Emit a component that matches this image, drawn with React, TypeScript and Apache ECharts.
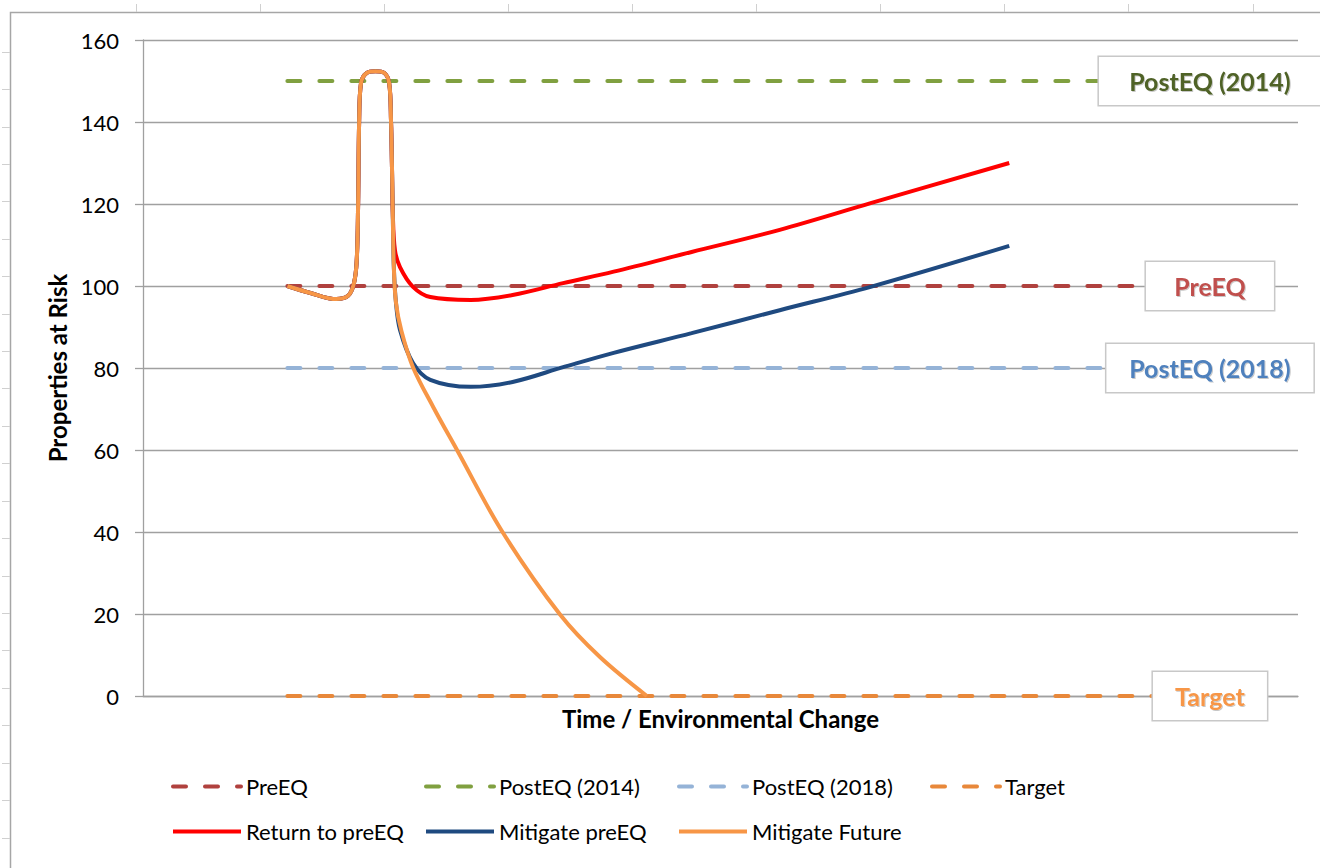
import { useEffect, useRef } from 'react';
import * as echarts from 'echarts';

// ---- data ----
const referenceNames = ['PreEQ', 'PostEQ (2014)', 'PostEQ (2018)', 'Target'];
const referenceValues = [100, 150, 80, 0];
const referenceSpan = [1, 7.3];
const labelAnchorX = 7.39;

const curveNames = ['Return to preEQ', 'Mitigate preEQ', 'Mitigate Future'];
const sharedStart: number[][] = [
  [1.0, 100], [1.16, 98.3], [1.34, 96.8], [1.42, 97.6], [1.46, 100.5], [1.48, 106],
  [1.49, 120], [1.497, 140], [1.51, 149.5], [1.55, 152], [1.61, 152.4], [1.67, 152],
  [1.705, 149.5], [1.718, 140], [1.724, 130], [1.73, 118],
];
const returnTail: number[][] = [
  [1.745, 108.8], [1.78, 104.6], [1.87, 99.8], [1.99, 97.3], [2.27, 96.6], [2.56, 97.8],
  [2.91, 100.7], [3.26, 103.5], [3.8, 108.3], [4.41, 113.7], [5.04, 120.2], [6.0, 130],
];
const mitigateTail: number[][] = [
  [1.737, 105], [1.752, 96], [1.78, 89.3], [1.87, 81.2], [1.99, 77.1], [2.27, 75.4],
  [2.56, 76.6], [2.91, 80.2], [3.26, 83.7], [3.8, 88.5], [4.41, 94.1], [5.04, 99.8], [6.0, 109.8],
];
const futureTail: number[][] = [
  [1.737, 105], [1.752, 96], [1.79, 89], [1.87, 80.2], [2.01, 70.5], [2.175, 60],
  [2.49, 40], [2.89, 19.8], [3.165, 9.5], [3.49, 0],
];
const yMin = 0;
const yMax = 160;
const yStep = 20;

// ---- styles ----
const FONT = 'Lato';
const refLineColors = ['#B0413E', '#80A040', '#95B3D7', '#E8883A'];
const refTextColors = ['#C0504D', '#4F6228', '#4F81BD', '#F79646'];
const refBoxWidths = [128, 222, 207, 114];
const curveColors = ['#FF0000', '#1F4A80', '#F79646'];

export default function App() {
  const ref = useRef<HTMLDivElement>(null);
  useEffect(() => {
    if (!ref.current) return;
    const chart = echarts.init(ref.current, undefined, { renderer: 'svg' });

    const refSeries = referenceNames.map((name, i) => ({
      type: 'line',
      name,
      data: referenceSpan.map((x) => [x, referenceValues[i]]),
      symbol: 'none',
      showSymbol: false,
      z: 2,
      lineStyle: { color: refLineColors[i], width: 4, type: [13, 19], cap: 'round' },
      itemStyle: { color: refLineColors[i] },
      markPoint: {
        symbol: 'rect',
        symbolSize: 1,
        silent: true,
        itemStyle: { color: 'rgba(0,0,0,0)' },
        data: [{ coord: [labelAnchorX, referenceValues[i]] }],
        label: {
          show: true,
          position: 'inside',
          formatter: name,
          color: refTextColors[i],
          fontFamily: FONT,
          fontWeight: 'bold',
          fontSize: 25,
          backgroundColor: '#ffffff',
          borderColor: '#c8c8c8',
          borderWidth: 1.5,
          width: refBoxWidths[i],
          height: 48,
          lineHeight: 48,
          align: 'center',
          verticalAlign: 'middle',
          padding: 0,
          textShadowColor: 'rgba(0,0,0,0.22)',
          textShadowBlur: 1,
          textShadowOffsetX: 1,
          textShadowOffsetY: 1,
        },
      },
    }));

    const curveData = [returnTail, mitigateTail, futureTail].map((tail) => sharedStart.concat(tail));
    const curveSeries = curveNames.map((name, i) => ({
      type: 'line',
      name,
      data: curveData[i],
      symbol: 'none',
      showSymbol: false,
      smooth: 0.35,
      z: 3,
      lineStyle: { color: curveColors[i], width: 4 },
      itemStyle: { color: curveColors[i] },
    }));

    const graphics: any[] = [
      {
        type: 'rect',
        shape: { x: 10.5, y: 12.5, width: 1400, height: 1000 },
        style: { fill: 'none', stroke: '#a6a6a6', lineWidth: 1.5 },
        silent: true,
        z: -10,
      },
    ];
    for (let k = 0; k < 10; k++) {
      const x = Math.round(135.7 + 124.09 * k) + 0.5;
      graphics.push({ type: 'line', shape: { x1: x, y1: 4, x2: x, y2: 12 }, style: { stroke: '#d0d0d0', lineWidth: 1 }, silent: true, z: -10 });
    }
    for (let k = 0; k < 23; k++) {
      const y = Math.round(51.7 + 37.42 * k) + 0.5;
      graphics.push({ type: 'line', shape: { x1: 2, y1: y, x2: 10, y2: y }, style: { stroke: '#d0d0d0', lineWidth: 1 }, silent: true, z: -10 });
    }

    chart.setOption({
      animation: false,
      backgroundColor: '#ffffff',
      grid: { left: 143, right: 22, top: 40, bottom: 172, containLabel: false },
      xAxis: {
        type: 'value',
        min: 0,
        max: 8,
        axisLabel: { show: false },
        axisTick: { show: false },
        splitLine: { show: false },
        axisLine: { show: true, lineStyle: { color: '#a0a0a0', width: 1.3 } },
        name: 'Time / Environmental Change',
        nameLocation: 'middle',
        nameGap: 10,
        nameTextStyle: { fontFamily: FONT, fontWeight: 'bold', fontSize: 24, color: '#000' },
      },
      yAxis: {
        type: 'value',
        min: yMin,
        max: yMax,
        interval: yStep,
        axisLine: { show: true, lineStyle: { color: '#a0a0a0', width: 1.3 } },
        axisTick: { show: true, length: 8, lineStyle: { color: '#a0a0a0', width: 1.3 } },
        axisLabel: { fontFamily: FONT, fontSize: 22, color: '#000', margin: 24 },
        splitLine: { show: true, lineStyle: { color: '#a0a0a0', width: 1.3 } },
        name: 'Properties at Risk',
        nameLocation: 'middle',
        nameRotate: 90,
        nameGap: 72,
        nameTextStyle: { fontFamily: FONT, fontWeight: 'bold', fontSize: 24, color: '#000' },
      },
      legend: {
        data: [...referenceNames, ...curveNames],
        left: 166,
        top: 763,
        width: 1080,
        orient: 'horizontal',
        itemWidth: 68,
        itemHeight: 1,
        itemGap: 8,
        itemStyle: { opacity: 0 },
        lineStyle: { width: 4 },
        textStyle: {
          fontFamily: FONT,
          fontSize: 22,
          color: '#000',
          width: 170,
          height: 37,
          lineHeight: 37,
        },
      },
      graphic: graphics,
      series: [...refSeries, ...curveSeries],
    });
    return () => chart.dispose();
  }, []);
  return (
    <div
      ref={ref}
      style={{ position: 'fixed', left: 0, top: 0, width: 1320, height: 868, background: '#fff' }}
    />
  );
}
